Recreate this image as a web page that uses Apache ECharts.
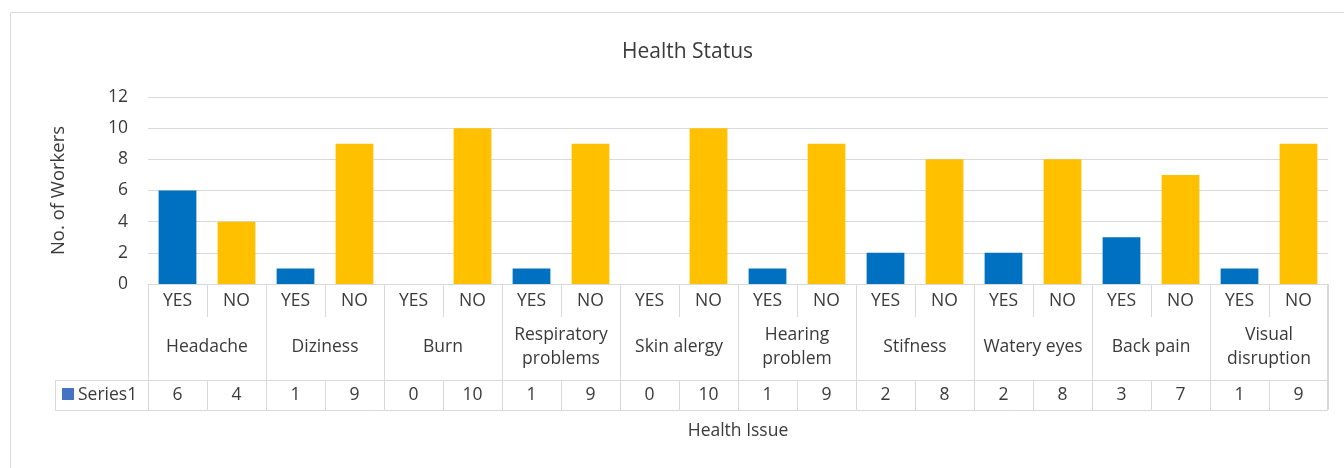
<!DOCTYPE html>
<html><head><meta charset="utf-8">
<script src="https://cdn.jsdelivr.net/npm/echarts@6/dist/echarts.min.js"></script>
<style>html,body{margin:0;padding:0;background:#fff}#c{width:1344px;height:468px}</style>
</head><body><div id="c"></div>
<script>
var groups = ['Headache','Diziness','Burn','Respiratory\nproblems','Skin alergy','Hearing\nproblem','Stifness','Watery eyes','Back pain','Visual\ndisruption'];
var answers = ['YES','NO'];
var yesValues = [6,1,0,1,0,1,2,2,3,1];
var noValues  = [4,9,10,9,10,9,8,8,7,9];
var yTicks = [0,2,4,6,8,10,12];

var YES_COLOR = '#0070C0', NO_COLOR = '#FFC000', GRID = '#D9D9D9', TXT = '#3a3a3a';
var FONT = 'Open Sans';
var FS = 17.5;

var cats = [], vals = [], barData = [];
groups.forEach(function(g,i){
  cats.push(answers[0]); vals.push(yesValues[i]);
  barData.push({value: yesValues[i], itemStyle:{color: YES_COLOR}});
  cats.push(answers[1]); vals.push(noValues[i]);
  barData.push({value: noValues[i], itemStyle:{color: NO_COLOR}});
});

var chart = echarts.init(document.getElementById('c'), null, {renderer:'canvas'});
var L = 148, R = 16, T = 97, B = 184;
var W = 1344, H = 468;
var axisBottom = H - B;
chart.setOption({
  animation:false,
  textStyle:{fontFamily:FONT},
  title:{text:'Health Status', left:617, top:37,
    textStyle:{fontFamily:FONT, fontSize:21, fontWeight:'normal', color:TXT}},
  grid:{left:L, right:R, top:T, bottom:B},
  yAxis:{type:'value', min:yTicks[0], max:yTicks[yTicks.length-1], interval:yTicks[1]-yTicks[0],
    name:'No. of Workers', nameLocation:'middle', nameGap:80,
    nameTextStyle:{fontFamily:FONT, fontSize:18.5, color:TXT},
    axisLine:{show:false}, axisTick:{show:false},
    axisLabel:{fontFamily:FONT, fontSize:FS, color:TXT, margin:20},
    splitLine:{lineStyle:{color:GRID, width:1}}},
  xAxis:[
    {type:'category', data:cats, position:'bottom',
     axisLine:{lineStyle:{color:GRID, width:1}},
     axisTick:{show:true, length:33, interval:0, lineStyle:{color:GRID, width:1}},
     axisLabel:{interval:0, fontFamily:FONT, fontSize:FS, color:TXT, margin:17, verticalAlign:'middle'}},
    {type:'category', data:groups, position:'bottom', offset:0,
     axisLine:{show:false},
     axisTick:{show:true, length:96, interval:0, lineStyle:{color:GRID, width:1}},
     axisLabel:{interval:0, fontFamily:FONT, fontSize:FS, color:TXT, margin:63, verticalAlign:'middle', lineHeight:24}},
    {type:'category', data:cats, position:'bottom', offset:96,
     name:'Health Issue', nameLocation:'middle', nameGap:42,
     nameTextStyle:{fontFamily:FONT, fontSize:FS, color:TXT},
     axisLine:{lineStyle:{color:GRID, width:1}},
     axisTick:{show:true, length:30, interval:0, lineStyle:{color:GRID, width:1}},
     axisLabel:{interval:0, fontFamily:FONT, fontSize:FS, color:TXT, margin:15, verticalAlign:'middle',
       formatter:function(v,i){return String(vals[i]);}}}
  ],
  series:[{type:'bar', xAxisIndex:0, data:barData, barCategoryGap:'36%'}],
  graphic:[
    {type:'rect', shape:{x:10.5, y:12.5, width:1340, height:470}, style:{fill:null, stroke:GRID, lineWidth:1}, silent:true},
    {type:'line', shape:{x1:55, y1:axisBottom+96.5, x2:L, y2:axisBottom+96.5}, style:{stroke:GRID, lineWidth:1}},
    {type:'line', shape:{x1:55, y1:axisBottom+126.5, x2:W-R, y2:axisBottom+126.5}, style:{stroke:GRID, lineWidth:1}},
    {type:'line', shape:{x1:55.5, y1:axisBottom+96, x2:55.5, y2:axisBottom+127}, style:{stroke:GRID, lineWidth:1}},
    {type:'line', shape:{x1:W-R-0.5, y1:axisBottom, x2:W-R-0.5, y2:axisBottom+127}, style:{stroke:GRID, lineWidth:1}},
    {type:'rect', shape:{x:62, y:axisBottom+104, width:12, height:12}, style:{fill:'#4472C4'}},
    {type:'text', x:78, y:axisBottom+111, style:{text:'Series1', fontFamily:FONT, fontSize:FS, fill:TXT, verticalAlign:'middle'}}
  ]
});
</script></body></html>
